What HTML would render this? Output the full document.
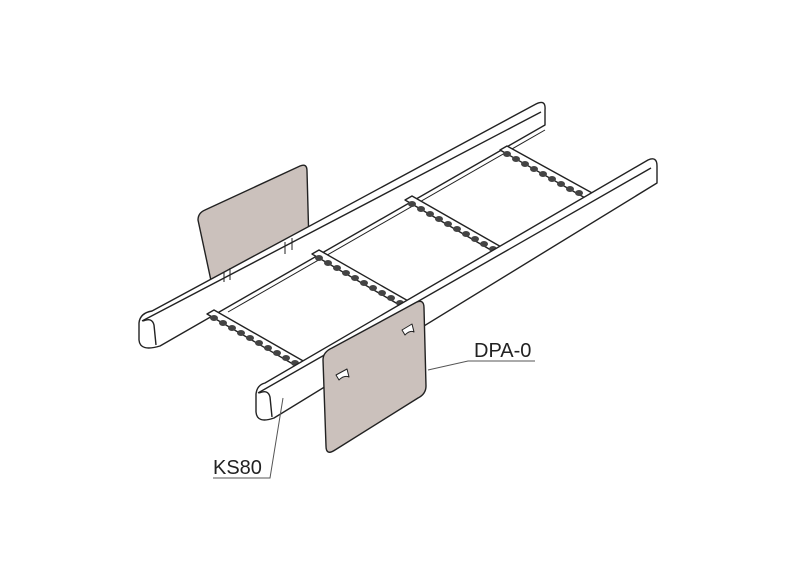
<!DOCTYPE html>
<html><head><meta charset="utf-8"><style>
html,body{margin:0;padding:0;background:#fff;}
svg{display:block}
text{font-family:"Liberation Sans",sans-serif;font-size:20px;fill:#222}
</style></head><body>
<svg width="800" height="566" viewBox="0 0 800 566" xmlns="http://www.w3.org/2000/svg">
<g stroke="#222" stroke-width="1.4" fill="#fff" stroke-linejoin="round">
<path d="M198,220 Q198,213 205,210 L300,166 Q307,163 307,171 L309,245 L213,290 Z" fill="#cbc1bc"/>
<path d="M152,311 L536,104 Q546,99 545,110 L545,125 L160,346 Q140,352 139,340 L139,323 Q140,313 152,311 Z"/>
<path d="M142,321 L541,112" fill="none"/>
<path d="M143,321 Q152,317 154,325 L156,345" fill="none"/>
<path d="M224,272 L224,282 M230,268 L230,280 M285,242 L285,254 M292,238 L292,250" fill="none" stroke-width="1"/>
<path d="M228,312 L545,130 M300,372 L315,363" fill="none" stroke-width="1"/>
<path d="M207,314 L214,310 L305,362 L298,367 Z"/>
<path d="M312,254 L319,250 L410,302 L403,307 Z"/>
<path d="M405,200 L412,196 L503,248 L496,253 Z"/>
<path d="M500,150 L507,146 L594,194 L587,199 Z"/>
<g fill="#444" stroke="none">
<ellipse cx="214" cy="318" rx="4" ry="3"/><ellipse cx="223" cy="323" rx="4" ry="3"/><ellipse cx="232" cy="328" rx="4" ry="3"/><ellipse cx="241" cy="333" rx="4" ry="3"/><ellipse cx="250" cy="338" rx="4" ry="3"/><ellipse cx="259" cy="343" rx="4" ry="3"/><ellipse cx="268" cy="348" rx="4" ry="3"/><ellipse cx="277" cy="353" rx="4" ry="3"/><ellipse cx="286" cy="358" rx="4" ry="3"/><ellipse cx="295" cy="363" rx="4" ry="3"/>
<ellipse cx="319" cy="258" rx="4" ry="3"/><ellipse cx="328" cy="263" rx="4" ry="3"/><ellipse cx="337" cy="268" rx="4" ry="3"/><ellipse cx="346" cy="273" rx="4" ry="3"/><ellipse cx="355" cy="278" rx="4" ry="3"/><ellipse cx="364" cy="283" rx="4" ry="3"/><ellipse cx="373" cy="288" rx="4" ry="3"/><ellipse cx="382" cy="293" rx="4" ry="3"/><ellipse cx="391" cy="298" rx="4" ry="3"/><ellipse cx="400" cy="303" rx="4" ry="3"/>
<ellipse cx="412" cy="204" rx="4" ry="3"/><ellipse cx="421" cy="209" rx="4" ry="3"/><ellipse cx="430" cy="214" rx="4" ry="3"/><ellipse cx="439" cy="219" rx="4" ry="3"/><ellipse cx="448" cy="224" rx="4" ry="3"/><ellipse cx="457" cy="229" rx="4" ry="3"/><ellipse cx="466" cy="234" rx="4" ry="3"/><ellipse cx="475" cy="239" rx="4" ry="3"/><ellipse cx="484" cy="244" rx="4" ry="3"/><ellipse cx="493" cy="249" rx="4" ry="3"/>
<ellipse cx="507" cy="154" rx="4" ry="3"/><ellipse cx="516" cy="159" rx="4" ry="3"/><ellipse cx="525" cy="164" rx="4" ry="3"/><ellipse cx="534" cy="169" rx="4" ry="3"/><ellipse cx="543" cy="174" rx="4" ry="3"/><ellipse cx="552" cy="179" rx="4" ry="3"/><ellipse cx="561" cy="184" rx="4" ry="3"/><ellipse cx="570" cy="189" rx="4" ry="3"/><ellipse cx="579" cy="193" rx="4" ry="3"/>
</g>
<path d="M265,383 L648,160 Q657,156 657,166 L657,183 L274,418 Q257,424 256,412 L256,394 Q257,385 265,383 Z"/>
<path d="M258,393 L651,168" fill="none"/>
<path d="M259,393 Q268,389 270,397 L272,417" fill="none"/>
<path d="M323,360 Q323,352 332,348 L415,303 Q424,298 424,308 L426,386 Q426,394 418,398 L335,450 Q326,456 326,446 Z" fill="#cbc1bc"/>
<path d="M402,330 L412,324 L414,332 Q410,330 405,335 Z M336,375 L347,369 L349,377 Q344,375 339,380 Z" fill="#fff" stroke-width="1"/>
</g>
<g stroke="#555" stroke-width="1" fill="none">
<path d="M428,370 L468,361 L535,361"/>
<path d="M283,398 L270,478 L213,478"/>
</g>
<text x="474" y="357">DPA-0</text>
<text x="213" y="474">KS80</text>
</svg>
</body></html>
